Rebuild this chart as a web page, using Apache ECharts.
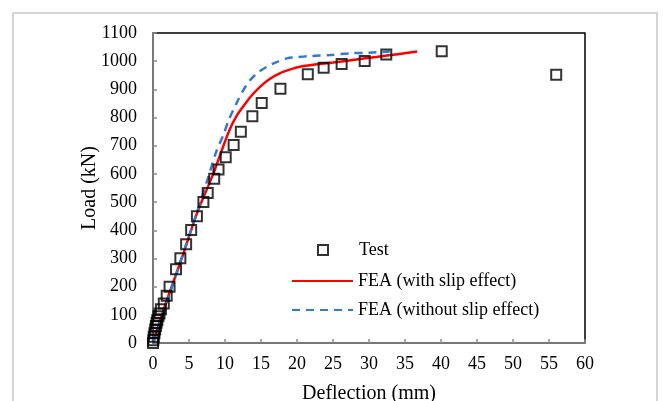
<!DOCTYPE html>
<html><head><meta charset="utf-8">
<script src="https://cdn.jsdelivr.net/npm/echarts@6/dist/echarts.min.js"></script>
<style>html,body{margin:0;padding:0;background:#fff}#c{width:663px;height:401px}</style>
</head><body><div id="c"></div>
<script>
// Test data: deflection (mm), load (kN)
const testDefl = [0,0.05,0.1,0.2,0.3,0.4,0.5,0.6,0.75,0.9,1.1,1.5,1.9,2.3,3.2,3.8,4.6,5.3,6.1,7.0,7.6,8.5,9.1,10.1,11.2,12.2,13.8,15.1,17.7,21.5,23.7,26.2,29.4,32.4,40.1,56.0];
const testLoad = [0,10,22,35,48,60,72,82,95,105,120,140,168,200,262,301,350,401,450,500,532,583,616,659,703,750,805,852,902,954,977,990,1001,1024,1035,952];
// FEA with slip effect
const slipDefl = [0,1.7,4.2,6.1,8.4,9.5,10.7,11.6,12.5,13.7,14.9,16.2,17.6,19,20.4,22.5,25,28,31,34,36.7];
const slipLoad = [0,135,315,460,602,680,760,805,838,878,910,937,957,970,980,988,995,1005,1015,1025,1034];
// FEA without slip effect
const noSlipDefl = [0,2,4,6,7.7,8.8,9.8,10.5,11.6,12.5,13.5,14.6,15.8,17,18.6,20,21.8,24.6,27.4,30,32.9];
const noSlipLoad = [0,150,305,455,590,680,740,790,851,895,933,960,980,995,1010,1014,1018,1022,1028,1030,1034];
const names = ['Test','FEA (with slip effect)','FEA (without slip effect)'];

const zip = (a,b)=>a.map((v,i)=>[v,b[i]]);
const font = 'Liberation Serif, Times New Roman, serif';
const chart = echarts.init(document.getElementById('c'));
const legText = {fontFamily:font,fontSize:18,color:'#000'};
chart.setOption({
  animation:false,
  graphic:[{type:'rect',shape:{x:13,y:13,width:644,height:400},style:{fill:'none',stroke:'#c8c8c8',lineWidth:1.5},z:-1}],
  grid:{left:153,right:78,top:33,bottom:58,show:true,borderColor:'#000',borderWidth:1.5,outerBoundsMode:'none',containLabel:false},
  xAxis:{type:'value',min:0,max:60,interval:5,name:'Deflection (mm)',nameLocation:'middle',nameGap:41,nameMoveOverlap:false,
    nameTextStyle:{fontFamily:font,fontSize:20,color:'#000'},
    axisLine:{lineStyle:{color:'#8c8c8c',width:1.5}},axisTick:{inside:true,length:4,lineStyle:{color:'#8c8c8c',width:1.5}},
    axisLabel:{fontFamily:font,fontSize:18,color:'#000',margin:12,formatter:v=>String(v)},splitLine:{show:false}},
  yAxis:{type:'value',min:0,max:1100,interval:100,name:'Load (kN)',nameLocation:'middle',nameGap:53,nameMoveOverlap:false,
    nameTextStyle:{fontFamily:font,fontSize:20,color:'#000'},
    axisLine:{lineStyle:{color:'#8c8c8c',width:1.5}},axisTick:{inside:true,length:4,lineStyle:{color:'#8c8c8c',width:1.5}},
    axisLabel:{fontFamily:font,fontSize:18,color:'#000',margin:16,formatter:v=>String(v)},splitLine:{show:false}},
  legend:[
    {orient:'vertical',selectedMode:false,data:[names[0]],left:312,top:236,itemWidth:10,itemHeight:10,
     textStyle:Object.assign({},legText,{padding:[0,0,0,26]})},
    {orient:'vertical',selectedMode:false,data:[names[1],names[2]],left:286,top:267,itemWidth:61,itemHeight:12,itemGap:11,
     itemStyle:{opacity:0},textStyle:legText}
  ],
  series:[
    {name:names[1],type:'line',data:zip(slipDefl,slipLoad),symbol:'none',smooth:0.3,lineStyle:{color:'#ff0000',width:2.5},itemStyle:{color:'#ff0000'},z:2},
    {name:names[2],type:'line',data:zip(noSlipDefl,noSlipLoad),symbol:'none',smooth:0.3,lineStyle:{color:'#2e7bd6',width:2.5,type:[8,6]},itemStyle:{color:'#2e7bd6'},z:2},
    {name:names[0],type:'scatter',data:zip(testDefl,testLoad),symbol:'rect',symbolSize:10,itemStyle:{color:'rgba(0,0,0,0)',borderColor:'#000',borderWidth:2},z:3}
  ]
});
</script></body></html>
